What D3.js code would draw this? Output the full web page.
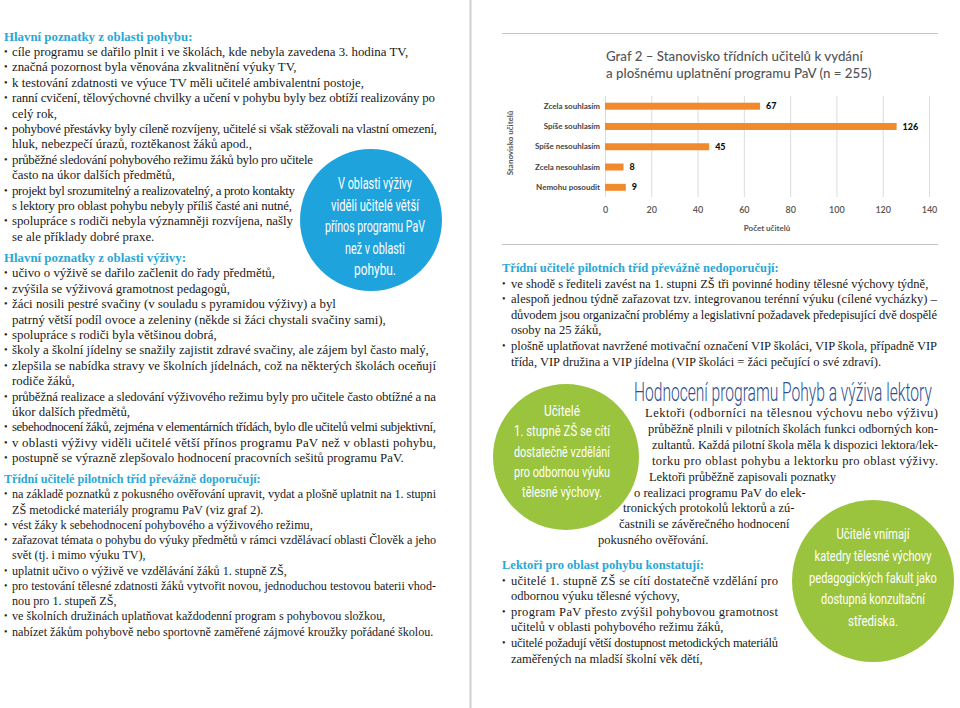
<!DOCTYPE html>
<html><head><meta charset="utf-8">
<script src="https://cdn.jsdelivr.net/npm/d3@7"></script>
<style>body{margin:0;background:#fff}svg{display:block}</style>
</head><body>
<svg id="page" width="960" height="708"></svg>
<script>
// ---------- chart data ----------
const categories = ["Zcela souhlasím","Spíše souhlasím","Spíše nesouhlasím","Zcela nesouhlasím","Nemohu posoudit"];
const values = [67,126,45,8,9];
const xTicks = [0,20,40,60,80,100,120,140];
const chartTitle = ["Graf 2 – Stanovisko třídních učitelů k vydání","a plošnému uplatnění programu PaV (n = 255)"];
const xAxisTitle = "Počet učitelů";
const yAxisTitle = "Stanovisko učitelů";

// ---------- page text (# heading, • bullet, plain = continuation, |x = justify to x) ----------
const leftPohyb = [
"#Hlavní poznatky z oblasti pohybu:",
"•cíle programu se dařilo plnit i ve školách, kde nebyla zavedena 3. hodina TV,",
"•značná pozornost byla věnována zkvalitnění výuky TV,",
"•k testování zdatnosti ve výuce TV měli učitelé ambivalentní postoje,",
"•ranní cvičení, tělovýchovné chvilky a učení v pohybu byly bez obtíží realizovány po|435",
"celý rok,",
"•pohybové přestávky byly cíleně rozvíjeny, učitelé si však stěžovali na vlastní omezení,|437",
"hluk, nebezpečí úrazů, roztěkanost žáků apod.,",
"•průběžné sledování pohybového režimu žáků bylo pro učitele|313",
"často na úkor dalších předmětů,",
"•projekt byl srozumitelný a realizovatelný, a proto kontakty|295",
"s lektory pro oblast pohybu nebyly příliš časté ani nutné,|292",
"•spolupráce s rodiči nebyla významněji rozvíjena, našly|293",
"se ale příklady dobré praxe."
];
const leftVyziva = [
"#Hlavní poznatky z oblasti výživy:",
"•učivo o výživě se dařilo začlenit do řady předmětů,",
"•zvýšila se výživová gramotnost pedagogů,",
"•žáci nosili pestré svačiny (v souladu s pyramidou výživy) a byl",
"patrný větší podíl ovoce a zeleniny (někde si žáci chystali svačiny sami),",
"•spolupráce s rodiči byla většinou dobrá,",
"•školy a školní jídelny se snažily zajistit zdravé svačiny, ale zájem byl často malý,",
"•zlepšila se nabídka stravy ve školních jídelnách, což na některých školách oceňují|436",
"rodiče žáků,",
"•průběžná realizace a sledování výživového režimu byly pro učitele často obtížné a na|436",
"úkor dalších předmětů,",
"•sebehodnocení žáků, zejména v elementárních třídách, bylo dle učitelů velmi subjektivní,|436",
"•v oblasti výživy viděli učitelé větší přínos programu PaV než v oblasti pohybu,|436",
"•postupně se výrazně zlepšovalo hodnocení pracovních sešitů programu PaV."
];
const leftDoporucuji = [
"#Třídní učitelé pilotních tříd převážně doporučují:",
"•na základě poznatků z pokusného ověřování upravit, vydat a plošně uplatnit na 1. stupni|436",
"ZŠ metodické materiály programu PaV (viz graf 2).",
"•vést žáky k sebehodnocení pohybového a výživového režimu,",
"•zařazovat témata o pohybu do výuky předmětů v rámci vzdělávací oblasti Člověk a jeho|436",
"svět (tj. i mimo výuku TV),",
"•uplatnit učivo o výživě ve vzdělávání žáků 1. stupně ZŠ,",
"•pro testování tělesné zdatnosti žáků vytvořit novou, jednoduchou testovou baterii vhod-|436",
"nou pro 1. stupeň ZŠ,",
"•ve školních družinách uplatňovat každodenní program s pohybovou složkou,",
"•nabízet žákům pohybově nebo sportovně zaměřené zájmové kroužky pořádané školou."
];
const rightText = [
"#Třídní učitelé pilotních tříd převážně nedoporučují:",
"•ve shodě s řediteli zavést na 1. stupni ZŠ tři povinné hodiny tělesné výchovy týdně,",
"•alespoň jednou týdně zařazovat tzv. integrovanou terénní výuku (cílené vycházky) –|937",
"důvodem jsou organizační problémy a legislativní požadavek předepisující dvě dospělé|937",
"osoby na 25 žáků,",
"•plošně uplatňovat navržené motivační označení VIP školáci, VIP škola, případně VIP|937",
"třída, VIP družina a VIP jídelna (VIP školáci = žáci pečující o své zdraví)."
];
const lectorTitle = "Hodnocení programu Pohyb a výživa lektory";
const lectorPara = [
"Lektoři (odborníci na tělesnou výchovu nebo výživu)|938",
"průběžně plnili v pilotních školách funkci odborných kon-|938",
"zultantů. Každá pilotní škola měla k dispozici lektora/lek-|938",
"torku pro oblast pohybu a lektorku pro oblast výživy.|938",
"Lektoři průběžně zapisovali poznatky|836",
"o realizaci programu PaV do elek-",
"tronických protokolů lektorů a zú-",
"častnili se závěrečného hodnocení",
"pokusného ověřování."
];
const lectorParaX = [645,648,652,652,649,634,623,619,598];
const lectorList = [
"#Lektoři pro oblast pohybu konstatují:",
"•učitelé 1. stupně ZŠ se cítí dostatečně vzdělání pro|778",
"odbornou výuku tělesné výchovy,",
"•program PaV přesto zvýšil pohybovou gramotnost|778",
"učitelů v oblasti pohybového režimu žáků,",
"•učitelé požadují větší dostupnost metodických materiálů|778",
"zaměřených na mladší školní věk dětí,"
];
const blueCircleText = ["V oblasti výživy","viděli učitelé větší","přínos programu PaV","než v oblasti","pohybu."];
const greenCircle1Text = ["Učitelé","1. stupně ZŠ se cítí","dostatečně vzdělání","pro odbornou výuku","tělesné výchovy."];
const greenCircle2Text = ["Učitelé vnímají","katedry tělesné výchovy","pedagogických fakult jako","dostupná konzultační","střediska."];

// ---------- drawing ----------
const svg = d3.select("#page");
const SERIF = "'Liberation Serif','Times New Roman',serif";
const NARROW = "Roboto,'Liberation Sans Narrow','DejaVu Sans Condensed',sans-serif";
const HEAD = "#2aa7d6";

svg.append("line").attr("x1",470.5).attr("x2",470.5).attr("y1",0).attr("y2",708)
  .attr("stroke","#cfcfcf").attr("stroke-width",2);

svg.append("circle").attr("cx",371).attr("cy",220).attr("r",71).attr("fill","#1ea3dc");
svg.append("circle").attr("cx",566).attr("cy",457).attr("r",73).attr("fill","#9ac43e");
svg.append("circle").attr("cx",873).attr("cy",581).attr("r",81).attr("fill","#9ac43e");

// condensed text squeezed horizontally to a target width
function squeezed(t, x, y, anchor, target, fs, fill, weight){
  const el = svg.append("text").attr("text-anchor",anchor).attr("font-family",NARROW)
    .attr("font-weight",weight).attr("font-size",fs).attr("fill",fill).text(t);
  const w = el.node().getComputedTextLength();
  el.attr("transform",`translate(${x},${y}) scale(${target/w},1)`);
}
function circleText(lines, cx, y0, lh, widths, fs){
  lines.forEach((t,i)=>squeezed(t,cx,y0+i*lh,"middle",widths[i],fs,"#fff",400));
}
circleText(blueCircleText,375,189,21.6,[74,88,100,60,42],16);
circleText(greenCircle1Text,562,416,20.3,[36,96,96,96,80],15);
circleText(greenCircle2Text,873,539,21.8,[73,117,128,104,50],15);

function textBlock(lines, o){
  let y = o.y;
  lines.forEach((raw,i)=>{
    let [s, jx] = raw.split("|");
    let kind = s[0]==="#"?"h":(s[0]==="•"?"b":"c");
    if(kind!=="c") s = s.slice(1);
    if(i>0) y += o.lh;
    const tx = kind==="h"?o.x:(o.xs?o.xs[i]:o.tx);
    if(kind==="b"){
      svg.append("text").attr("x",o.x).attr("y",y-1).attr("font-family",SERIF)
        .attr("font-size",o.fs*0.8).attr("fill","#222").text("•");
    }
    const t = svg.append("text").attr("x",tx).attr("y",y).attr("font-family",SERIF)
      .attr("font-size",o.fs).attr("fill",kind==="h"?HEAD:"#1a1a1a")
      .attr("font-weight",kind==="h"?"bold":"normal").text(s);
    if(jx) t.attr("textLength",(+jx)-tx).attr("lengthAdjust","spacing");
  });
}
textBlock(leftPohyb,{x:4,tx:12,y:40.5,lh:15.4,fs:12.85});
textBlock(leftVyziva,{x:4,tx:12,y:262,lh:15.4,fs:12.85});
textBlock(leftDoporucuji,{x:4,tx:12,y:483,lh:15.25,fs:12.15});
textBlock(rightText,{x:502,tx:511,y:272,lh:15.6,fs:12.5});
textBlock(lectorPara,{x:598,xs:lectorParaX,y:417,lh:15.9,fs:12.5});
textBlock(lectorList,{x:502,tx:511,y:569,lh:15.6,fs:12.5});

squeezed(lectorTitle,634,401,"start",298,25,"#2c4f8f",300);

// ---------- chart ----------
const SANS = "Lato,'Open Sans',sans-serif";
svg.append("line").attr("x1",502).attr("x2",938).attr("y1",33.5).attr("y2",33.5).attr("stroke","#c4c4c4");
svg.append("line").attr("x1",502).attr("x2",938).attr("y1",244.5).attr("y2",244.5).attr("stroke","#c4c4c4");

chartTitle.forEach((t,i)=>svg.append("text").attr("x",606).attr("y",61+i*16.5)
  .attr("font-family",SANS).attr("font-size",13.3).attr("font-weight",500).attr("fill","#555").text(t));

const x = d3.scaleLinear().domain([0,140]).range([605,929]);
const y = d3.scaleBand().domain(categories).range([96,197.5]).paddingInner(0.655).paddingOuter(0.33);

const gx = svg.append("g").attr("transform","translate(0,197)")
  .call(d3.axisBottom(x).tickValues(xTicks).tickSize(-101).tickPadding(7).tickFormat(d3.format("d")));
gx.select(".domain").remove();
gx.selectAll(".tick line").attr("stroke","#dcdcdc");
gx.selectAll(".tick text").attr("font-family",SANS).attr("font-size",9).attr("fill","#555")
  .attr("font-weight",600).attr("y",10).attr("dy","0.71em");

const gy = svg.append("g").attr("transform","translate(605,0)")
  .call(d3.axisLeft(y).tickSize(0).tickPadding(5));
gy.select(".domain").remove();
gy.selectAll(".tick text").attr("font-family",SANS).attr("font-size",8).attr("font-weight",700).attr("fill","#444");

svg.append("g").selectAll("rect").data(values).join("rect")
  .attr("x",x(0)).attr("y",(d,i)=>y(categories[i])).attr("width",d=>x(d)-x(0))
  .attr("height",y.bandwidth()).attr("fill","#f08a2d");
svg.append("g").selectAll("text").data(values).join("text")
  .attr("x",d=>x(d)+6).attr("y",(d,i)=>y(categories[i])+y.bandwidth()/2).attr("dy","0.35em")
  .attr("font-family",SANS).attr("font-size",9).attr("font-weight",900).attr("fill","#111").text(d=>d);

svg.append("text").attr("x",(x(0)+x(140))/2).attr("y",231).attr("text-anchor","middle")
  .attr("font-family",SANS).attr("font-size",8).attr("font-weight",700).attr("fill","#555").text(xAxisTitle);
svg.append("text").attr("transform","translate(513,143) rotate(-90)").attr("text-anchor","middle")
  .attr("font-family",SANS).attr("font-size",8).attr("font-weight",700).attr("fill","#555").text(yAxisTitle);
</script>
</body></html>
